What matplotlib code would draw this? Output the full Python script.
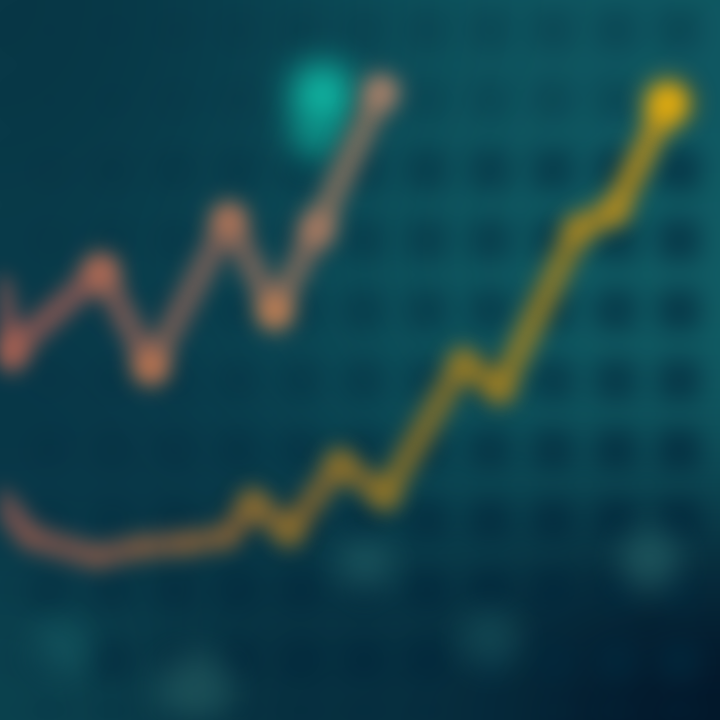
import numpy as np
import matplotlib
matplotlib.use('Agg')
import matplotlib.pyplot as plt
from matplotlib.collections import LineCollection
from matplotlib.colors import LinearSegmentedColormap


# upper series (salmon line), x position and value
upper_x = [-8, 9, 101, 151, 229, 275, 317, 381]
upper_y = [480, 367, 449, 353, 500, 408, 491, 628]
upper_dot = ['#c86c54', '#cc7456', '#e08250', '#cc7e5a', '#e48c52', '#bc8266', '#c48e72']

# lower series (salmon to gold line)
lower_x = [0, 30, 97, 140, 187, 227, 253, 289, 340, 385, 463, 500, 578, 615, 668]
lower_y = [220, 183, 163, 173, 177, 183, 217, 188, 257, 224, 358, 330, 491, 509, 617]

# soft glow spots in the background
glow_x = [322, 316, 365, 650, 60, 195, 490]
glow_y = [625, 585, 155, 160, 70, 30, 80]
glow_c = ['#12c6ae', '#10b4a0', '#3d8884', '#3d8884', '#2a8a88', '#3a7a76', '#2f7f7d']
glow_s = [2000, 1200, 1400, 1800, 1600, 3000, 1800]
glow_a = [0.95, 0.7, 0.4, 0.45, 0.35, 0.4, 0.35]

# background colour field (rows top to bottom)
bg_colors = [
    [(8, 55, 70), (10, 66, 80), (14, 84, 94), (16, 88, 98)],
    [(10, 62, 76), (12, 74, 86), (15, 90, 98), (18, 95, 102)],
    [(8, 52, 70), (9, 62, 78), (13, 82, 92), (16, 88, 97)],
    [(12, 68, 80), (7, 46, 62), (8, 50, 66), (3, 20, 40)],
]


def gauss_blur(img, sigma):
    r = int(3 * sigma)
    k = np.exp(-np.arange(-r, r + 1) ** 2 / (2.0 * sigma ** 2))
    k /= k.sum()
    out = np.zeros_like(img)
    p = np.pad(img, ((r, r), (0, 0), (0, 0)))
    for i, w in enumerate(k):
        out += w * p[i:i + img.shape[0]]
    res = np.zeros_like(out)
    p = np.pad(out, ((0, 0), (r, r), (0, 0)))
    for i, w in enumerate(k):
        res += w * p[:, i:i + img.shape[1]]
    return res


class Blur:
    def __init__(self, sigma):
        self.sigma = sigma

    def __call__(self, im, dpi):
        pad = int(3 * self.sigma)
        im = np.pad(im, ((pad, pad), (pad, pad), (0, 0))).copy()
        # agg clears to transparent white, so premultiply before blurring
        im[..., :3] *= im[..., 3:]
        b = gauss_blur(im, self.sigma)
        a = b[..., 3:]
        b[..., :3] = np.where(a > 1e-4, b[..., :3] / np.maximum(a, 1e-4), 0)
        return np.clip(b, 0, 1), -pad, -pad


def gradient_line(ax, x, y, colors, lw, sigma, alpha=1.0):
    pts = np.column_stack([x, y])
    segs = np.stack([pts[:-1], pts[1:]], axis=1)
    cmap = LinearSegmentedColormap.from_list('g', colors)
    mid = segs[:, :, 0].mean(axis=1)
    t = (mid - mid.min()) / (mid.max() - mid.min())
    lc = LineCollection(segs, colors=cmap(t), linewidths=lw, capstyle='round',
                        joinstyle='round', alpha=alpha, zorder=3)
    lc.set_agg_filter(Blur(sigma))
    lc.set_rasterized(True)
    ax.add_collection(lc)


fig = plt.figure(figsize=(7.2, 7.2), dpi=100)
ax = fig.add_axes([0, 0, 1, 1])
ax.set_xlim(0, 720)
ax.set_ylim(0, 720)
ax.axis('off')

bg = np.array(bg_colors) / 255.0
ax.imshow(bg, extent=[0, 720, 0, 720], origin='upper', interpolation='bicubic',
          aspect='auto', zorder=0)

# dark grid cells, faint in the upper left and along the top, stronger to the right and bottom
cx, cy = np.meshgrid(np.arange(-14, 740, 63), np.arange(-10, 740, 70))
cx, cy = cx.ravel(), cy.ravel()
rgba = np.zeros((len(cx), 4))
rgba[:, :3] = [0.01, 0.16, 0.24]
rgba[:, 3] = np.clip(0.12 + 0.6 * cx / 720 + 0.45 * (cy < 330) * (1 - cy / 330), 0, 0.85)
rgba[:, 3] *= np.where(cy > 560, 0.5, 1.0)
ax.scatter(cx, cy, s=900, marker='s', c=rgba, edgecolors='none', zorder=1,
           rasterized=True, agg_filter=Blur(9))

for gx_, gy_, c, s, a in zip(glow_x, glow_y, glow_c, glow_s, glow_a):
    ax.scatter(gx_, gy_, s=s, color=c, alpha=a, edgecolors='none',
               agg_filter=Blur(12), rasterized=True, zorder=2)

# upper series
gradient_line(ax, upper_x, upper_y,
              ['#a05a54', '#8c5c56', '#846258', '#866a5c', '#907460'], 18, 10, alpha=0.85)
ax.scatter(upper_x[1:], upper_y[1:], s=520, color=upper_dot,
           edgecolors='none', agg_filter=Blur(9), rasterized=True, zorder=4)

# lower series
gradient_line(ax, lower_x, lower_y,
              ['#8a5650', '#7e5848', '#84623a', '#8a6a2e', '#907426', '#a08022', '#c09018'],
              18, 10, alpha=0.85)
ax.scatter(lower_x[6:-1], lower_y[6:-1], s=360, color='#b08a28', alpha=0.5,
           edgecolors='none', agg_filter=Blur(9), rasterized=True, zorder=4)
ax.scatter([lower_x[-1]], [lower_y[-1]], s=1000, color='#f0b40c', edgecolors='none',
           agg_filter=Blur(9), rasterized=True, zorder=4)

fig.savefig('out.png', dpi=100)
